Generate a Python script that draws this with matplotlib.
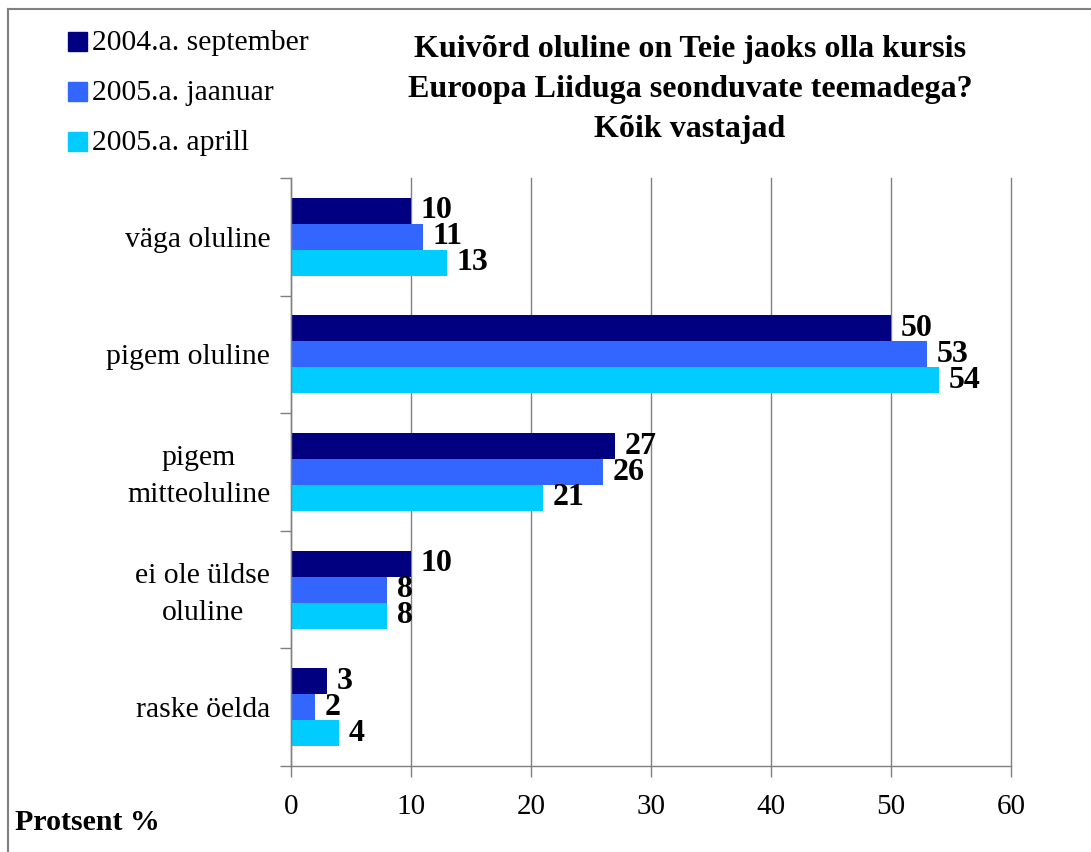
import matplotlib
matplotlib.use("Agg")
import matplotlib.pyplot as plt
from matplotlib.lines import Line2D
import matplotlib.transforms as mtransforms
import numpy as np

categories = ["väga oluline", "pigem oluline", "pigem\nmitteoluline", "ei ole üldse\noluline", "raske öelda"]
series_names = ["2004.a. september", "2005.a. jaanuar", "2005.a. aprill"]
sep2004 = [10, 50, 27, 10, 3]
jan2005 = [11, 53, 26, 8, 2]
apr2005 = [13, 54, 21, 8, 4]
colors = ["#000080", "#3366FF", "#00CCFF"]
x_ticks = [0, 10, 20, 30, 40, 50, 60]
title = "Kuivõrd oluline on Teie jaoks olla kursis\nEuroopa Liiduga seonduvate teemadega?\nKõik vastajad"
xlabel = "Protsent %"

plt.rcParams['font.family'] = ['Liberation Serif', 'DejaVu Serif']

W, H = 1091, 852
fig = plt.figure(figsize=(W / 100, H / 100), dpi=100)
ax = fig.add_axes([291 / W, 1 - 766 / H, (1011 - 291) / W, (766 - 178) / H])

n = len(categories)
centers = np.arange(n)
bh = 0.221
series = [sep2004, jan2005, apr2005]
for i, (vals, col, name) in enumerate(zip(series, colors, series_names)):
    ypos = centers + (i - 1) * bh
    ax.barh(ypos, vals, height=bh, color=col, label=name, zorder=3)
    for y, v in zip(ypos, vals):
        ax.annotate(str(v), xy=(v, y), xytext=(7, 0), textcoords="offset points",
                    ha="left", va="center", fontsize=23, fontweight="bold", zorder=4)

ax.set_ylim(n - 0.5, -0.5)
ax.set_xlim(0, 60)
ax.set_xticks(x_ticks)
ax.set_yticks(centers)
ax.set_yticklabels(categories, fontsize=21.3, multialignment="center", linespacing=1.55)
ax.set_yticks(np.arange(n + 1) - 0.5, minor=True)
ax.tick_params(axis="y", which="major", length=0, pad=15)
ax.tick_params(axis="y", which="minor", length=8, color="#808080", width=1)
ax.tick_params(axis="x", length=8, color="#808080", width=1, labelsize=21, pad=12.5)
ax.grid(axis="x", color="#808080", linewidth=1, zorder=0)
for gl in ax.get_xgridlines():
    gl.set_clip_on(False)
shift_up = mtransforms.ScaledTranslation(0, 4 / 100, fig.dpi_scale_trans)
for lbl in ax.get_yticklabels():
    if "\n" in lbl.get_text():
        lbl.set_transform(lbl.get_transform() + shift_up)
for s in ["top", "right"]:
    ax.spines[s].set_visible(False)
for s in ["left", "bottom"]:
    ax.spines[s].set_color("#808080")
    ax.spines[s].set_linewidth(1)
    ax.spines[s].set_zorder(5)

# Title
fig.text(690 / W, 1 - 89.5 / H, title, ha="center", va="center", fontsize=23,
         fontweight="bold", linespacing=1.52)

# Legend (manual)
for i, (name, col) in enumerate(zip(series_names, colors)):
    yc = 42 + i * 50
    fig.patches.append(plt.Rectangle((68 / W, 1 - (yc + 9) / H), 19 / W, 19 / H,
                                     transform=fig.transFigure, color=col))
    fig.text(92 / W, 1 - (yc + 1.5) / H, name, ha="left", va="center", fontsize=21.3)

fig.text(15 / W, 1 - 823 / H, xlabel, ha="left", va="center", fontsize=21.5, fontweight="bold")

# Frame lines
fig.add_artist(Line2D([8 / W, 8 / W], [0, 1 - 9 / H], transform=fig.transFigure, color="#808080", lw=1.5))
fig.add_artist(Line2D([8 / W, 1], [1 - 9 / H, 1 - 9 / H], transform=fig.transFigure, color="#808080", lw=1.5))

fig.savefig("out.png", dpi=100)
